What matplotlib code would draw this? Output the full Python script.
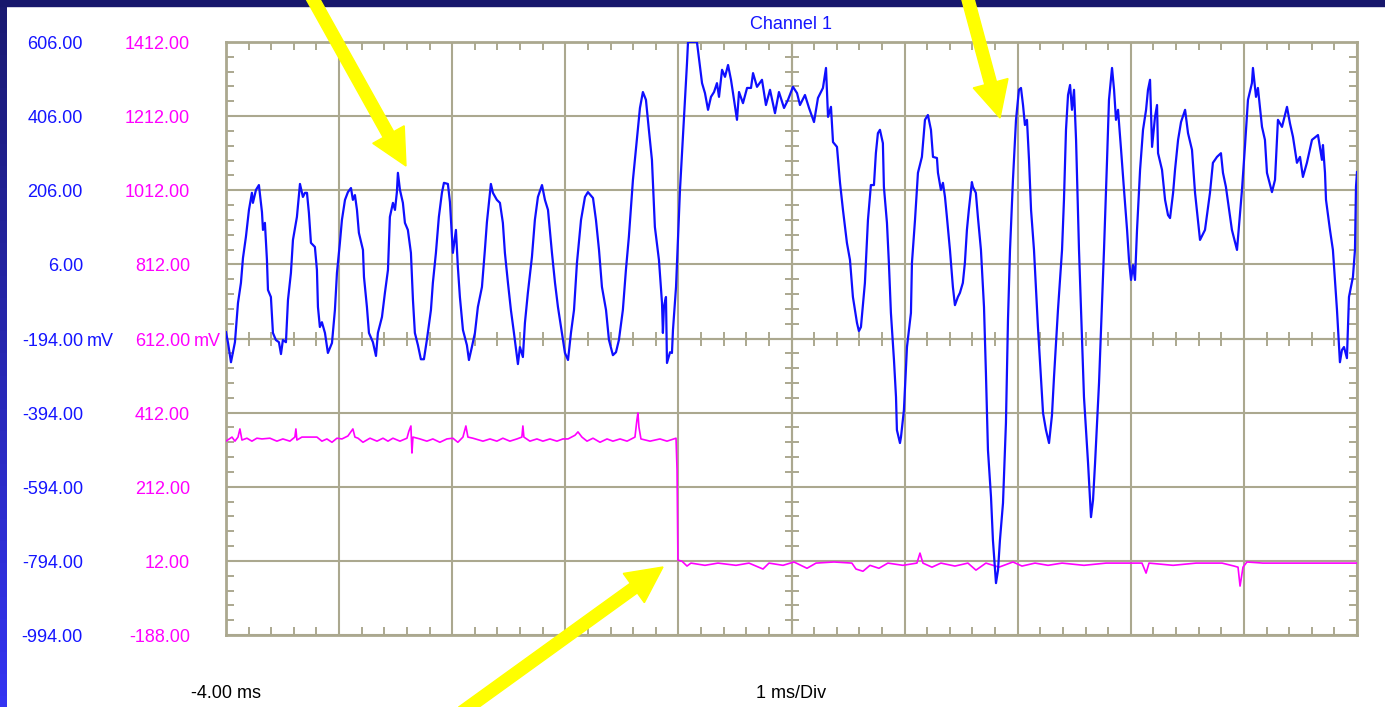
import matplotlib
matplotlib.use("Agg")
import matplotlib.pyplot as plt
from matplotlib import transforms
from matplotlib.colors import LinearSegmentedColormap
from matplotlib.patches import FancyArrow, Rectangle
from matplotlib.ticker import MultipleLocator
import numpy as np

BLUE_TICKS = [606, 406, 206, 6, -194, -394, -594, -794, -994]
MAG_TICKS = [1412, 1212, 1012, 812, 612, 412, 212, 12, -188]
T_START = -4.0
MS_PER_DIV = 1.0

BLUE_T = [
    -4.000, -3.982, -3.956, -3.939, -3.921, -3.894, -3.868, -3.850, -3.824, -3.797,
    -3.771, -3.762, -3.735, -3.709, -3.682, -3.673, -3.656, -3.638, -3.629, -3.603,
    -3.585, -3.559, -3.532, -3.514, -3.497, -3.470, -3.452, -3.426, -3.408, -3.373,
    -3.346, -3.320, -3.302, -3.284, -3.267, -3.249, -3.214, -3.196, -3.187, -3.170,
    -3.152, -3.125, -3.099, -3.063, -3.037, -3.019, -2.993, -2.975, -2.948, -2.922,
    -2.895, -2.878, -2.860, -2.842, -2.825, -2.789, -2.780, -2.754, -2.736, -2.701,
    -2.674, -2.657, -2.621, -2.595, -2.568, -2.551, -2.524, -2.506, -2.489, -2.480,
    -2.462, -2.436, -2.418, -2.392, -2.365, -2.347, -2.330, -2.303, -2.277, -2.250,
    -2.224, -2.188, -2.171, -2.144, -2.118, -2.091, -2.073, -2.038, -2.020, -1.994,
    -1.967, -1.950, -1.932, -1.905, -1.870, -1.852, -1.826, -1.799, -1.773, -1.737,
    -1.711, -1.693, -1.658, -1.640, -1.605, -1.578, -1.552, -1.534, -1.507, -1.481,
    -1.454, -1.419, -1.401, -1.375, -1.357, -1.331, -1.295, -1.269, -1.242, -1.206,
    -1.180, -1.153, -1.118, -1.091, -1.065, -1.030, -1.003, -0.976, -0.950, -0.923,
    -0.897, -0.861, -0.826, -0.800, -0.755, -0.729, -0.702, -0.676, -0.640, -0.614,
    -0.579, -0.552, -0.526, -0.491, -0.464, -0.438, -0.402, -0.367, -0.340, -0.314,
    -0.287, -0.261, -0.234, -0.208, -0.172, -0.145, -0.137, -0.128, -0.110, -0.101,
    -0.074, -0.057, -0.048, -0.021, -0.004, 0.014, 0.032, 0.058, 0.076, 0.085,
    0.164, 0.191, 0.209, 0.235, 0.262, 0.288, 0.315, 0.341, 0.359, 0.386,
    0.412, 0.439, 0.465, 0.483, 0.518, 0.536, 0.571, 0.607, 0.642, 0.660,
    0.695, 0.739, 0.774, 0.810, 0.854, 0.889, 0.934, 0.969, 1.013, 1.049,
    1.075, 1.119, 1.155, 1.199, 1.234, 1.278, 1.305, 1.323, 1.349, 1.367,
    1.402, 1.429, 1.455, 1.490, 1.517, 1.543, 1.579, 1.596, 1.614, 1.649,
    1.676, 1.702, 1.729, 1.746, 1.764, 1.782, 1.808, 1.817, 1.844, 1.861,
    1.879, 1.906, 1.924, 1.932, 1.959, 1.968, 1.994, 2.021, 2.056, 2.065,
    2.092, 2.118, 2.153, 2.180, 2.206, 2.233, 2.251, 2.286, 2.295, 2.321,
    2.339, 2.357, 2.374, 2.401, 2.427, 2.445, 2.471, 2.489, 2.515, 2.533,
    2.551, 2.568, 2.595, 2.604, 2.630, 2.648, 2.675, 2.702, 2.719, 2.737,
    2.764, 2.781, 2.808, 2.826, 2.843, 2.870, 2.896, 2.914, 2.932, 2.958,
    2.985, 3.011, 3.029, 3.047, 3.064, 3.082, 3.100, 3.118, 3.144, 3.179,
    3.224, 3.250, 3.277, 3.303, 3.321, 3.356, 3.392, 3.409, 3.427, 3.445,
    3.463, 3.480, 3.498, 3.516, 3.542, 3.586, 3.622, 3.648, 3.666, 3.684,
    3.719, 3.763, 3.790, 3.807, 3.834, 3.852, 3.869, 3.887, 3.914, 3.940,
    3.967, 3.984, 4.002, 4.020, 4.037, 4.055, 4.082, 4.108, 4.135, 4.152,
    4.170, 4.188, 4.214, 4.232, 4.241, 4.276, 4.303, 4.329, 4.347, 4.374,
    4.391, 4.418, 4.444, 4.480, 4.506, 4.541, 4.568, 4.612, 4.656, 4.700,
    4.726, 4.762, 4.797, 4.815, 4.841, 4.894, 4.939, 4.983, 5.009, 5.036,
    5.071, 5.080, 5.107, 5.124, 5.160, 5.186, 5.204, 5.248, 5.275, 5.301,
    5.337, 5.363, 5.381, 5.407, 5.434, 5.469, 5.496, 5.522, 5.557, 5.602,
    5.655, 5.672, 5.690, 5.699, 5.717, 5.726, 5.761, 5.787, 5.823, 5.849,
    5.867, 5.885, 5.911, 5.929, 5.964, 5.982, 5.991, 6.000,
]
BLUE_MV = [
    -177, -206, -258, -231, -204, -98, -44, 23, 80, 153,
    199, 172, 207, 220, 147, 99, 118, 18, -63, -82,
    -179, -198, -204, -236, -198, -204, -90, -17, 72, 134,
    223, 188, 199, 199, 145, 64, 53, -9, -109, -163,
    -150, -179, -233, -206, -117, -17, 64, 126, 180, 201,
    212, 180, 193, 153, 91, 45, -28, -109, -179, -204,
    -241, -179, -136, -71, -9, 134, 172, 153, 201, 253,
    207, 172, 118, 99, 37, -90, -179, -212, -250, -250,
    -198, -117, -44, 37, 134, 199, 226, 223, 174, 37,
    99, -1, -82, -171, -212, -252, -217, -179, -109, -55,
    45, 120, 223, 199, 180, 172, 118, 37, -44, -117,
    -179, -263, -217, -244, -152, -71, 26, 126, 188, 220,
    180, 153, 37, -44, -109, -179, -233, -252, -179, -117,
    10, 126, 188, 201, 185, 126, 45, -55, -117, -198,
    -239, -231, -198, -117, -9, 80, 234, 342, 428, 471,
    450, 369, 288, 107, 18, -98, -179, -109, -82, -260,
    -231, -233, -171, -55, 72, 207, 306, 450, 549, 606,
    606, 539, 495, 468, 423, 458, 471, 495, 458, 531,
    512, 544, 504, 468, 396, 471, 441, 482, 482, 522,
    485, 504, 436, 477, 414, 471, 428, 450, 485, 468,
    436, 463, 428, 390, 455, 482, 536, 404, 431, 336,
    323, 226, 153, 64, 18, -82, -152, -174, -163, -44,
    126, 220, 220, 306, 360, 369, 333, 215, 118, 10,
    -125, -252, -352, -441, -476, -460, -387, -217, -125, 10,
    126, 253, 296, 396, 409, 369, 296, 293, 253, 207,
    226, 188, 134, 45, -55, -104, -82, -71, -44, 10,
    99, 153, 228, 215, 199, 134, 45, -109, -287, -495,
    -622, -738, -854, -819, -738, -638, -422, -144, 45, 234,
    396, 477, 482, 436, 382, 396, 288, 153, 45, -163,
    -395, -441, -476, -401, -298, -117, 45, 180, 369, 463,
    490, 423, 477, 342, 45, -352, -530, -676, -630, -530,
    -314, 45, 288, 450, 536, 477, 396, 423, 315, 207,
    99, 18, -36, 4, -36, 99, 261, 369, 423, 477,
    504, 323, 404, 436, 306, 261, 180, 139, 131, 199,
    261, 342, 390, 423, 360, 315, 199, 72, 99, 199,
    280, 296, 306, 253, 215, 99, 45, 207, 323, 450,
    495, 536, 458, 482, 377, 342, 253, 201, 234, 396,
    377, 409, 431, 387, 350, 280, 296, 242, 280, 342,
    355, 323, 288, 328, 253, 180, 99, 45, -117, -258,
    -225, -217, -247, -82, -28, 45, 215, 255,
]

MAG_T = [
    -4.000, -3.947, -3.921, -3.894, -3.877, -3.859, -3.815, -3.771, -3.727, -3.682,
    -3.612, -3.550, -3.497, -3.435, -3.391, -3.382, -3.373, -3.329, -3.276, -3.196,
    -3.152, -3.108, -3.063, -3.019, -2.975, -2.922, -2.878, -2.860, -2.833, -2.789,
    -2.727, -2.665, -2.612, -2.568, -2.524, -2.462, -2.400, -2.383, -2.365, -2.356,
    -2.347, -2.285, -2.224, -2.171, -2.109, -2.047, -1.994, -1.950, -1.905, -1.879,
    -1.861, -1.817, -1.728, -1.666, -1.605, -1.552, -1.490, -1.428, -1.384, -1.375,
    -1.366, -1.313, -1.251, -1.198, -1.136, -1.074, -1.021, -0.976, -0.914, -0.888,
    -0.853, -0.808, -0.755, -0.693, -0.631, -0.579, -0.516, -0.454, -0.384, -0.367,
    -0.358, -0.349, -0.331, -0.251, -0.163, -0.101, -0.021, -0.012, -0.004, 0.032,
    0.076, 0.111, 0.235, 0.350, 0.509, 0.624, 0.748, 0.801, 0.925, 1.022,
    1.137, 1.217, 1.376, 1.534, 1.570, 1.632, 1.694, 1.773, 1.852, 1.985,
    2.109, 2.136, 2.162, 2.242, 2.321, 2.445, 2.560, 2.631, 2.719, 2.834,
    2.958, 3.038, 3.153, 3.268, 3.392, 3.586, 3.781, 3.940, 4.099, 4.135,
    4.161, 4.374, 4.577, 4.807, 4.913, 4.948, 4.966, 4.992, 5.027, 5.168,
    5.318, 5.477, 5.681, 5.840, 6.000,
]
MAG_MV = [
    335, 346, 335, 346, 368, 338, 343, 335, 343, 341,
    343, 335, 341, 335, 346, 368, 338, 346, 346, 346,
    335, 341, 332, 343, 341, 349, 368, 346, 343, 332,
    343, 335, 343, 335, 343, 335, 343, 362, 376, 303,
    346, 341, 335, 341, 332, 341, 343, 332, 346, 376,
    346, 343, 335, 341, 335, 343, 335, 341, 346, 376,
    346, 335, 341, 335, 341, 335, 341, 341, 351, 360,
    346, 335, 343, 332, 341, 335, 341, 335, 346, 392,
    411, 373, 341, 335, 341, 335, 343, 257, 14, 11,
    -2, 6, 0, 6, 0, 6, -10, 6, 0, 9,
    -8, 6, 9, 6, -10, -16, 0, -8, 6, 0,
    6, 33, 6, -5, 6, -2, 6, -13, 6, -5,
    9, -2, 6, 0, 6, 0, 6, 6, 6, -21,
    6, 0, 6, 6, -2, -5, -56, -5, 9, 6,
    6, 6, 6, 6, 6,
]

# ---- cores ----
GRID = "#aba88f"
AZUL = "#0f0fff"
AZUL_TXT = "#1414ff"
MAGENTA = "#ff00ff"
AMARELO = "#ffff00"

plt.rcParams["font.family"] = ["Liberation Sans", "DejaVu Sans"]
plt.rcParams["font.size"] = 13

W, H = 1385, 707
fig = plt.figure(figsize=(W / 100, H / 100), dpi=100, facecolor="white")

# moldura azul do slide
faixa = fig.add_axes([0, 0, 7 / W, 1])
grad = np.linspace(0, 1, 64).reshape(-1, 1)
faixa.imshow(grad, aspect="auto",
             cmap=LinearSegmentedColormap.from_list("borda", ["#1a1a70", "#3434f2"]))
faixa.axis("off")
fig.add_artist(Rectangle((0, 1 - 6 / H), 1, 6 / H, transform=fig.transFigure,
                         color="#17176c", zorder=5))

rect = [226 / W, 72 / H, 1131 / W, 593 / H]
xlim = (T_START, T_START + 10 * MS_PER_DIV)
ylim = (BLUE_TICKS[-1], BLUE_TICKS[0])

# eixos centrais com marcas dos dois lados
axc = fig.add_axes(rect, facecolor="white")
axc.set_xlim(*xlim)
axc.set_ylim(*ylim)
centro_t = (xlim[0] + xlim[1]) / 2
centro_v = (ylim[0] + ylim[1]) / 2
axc.spines["left"].set_position(("data", centro_t))
axc.spines["bottom"].set_position(("data", centro_v))
axc.spines["top"].set_visible(False)
axc.spines["right"].set_visible(False)
for s in ("left", "bottom"):
    axc.spines[s].set_color(GRID)
    axc.spines[s].set_linewidth(1.5)
axc.xaxis.set_major_locator(MultipleLocator(MS_PER_DIV))
axc.xaxis.set_minor_locator(MultipleLocator(MS_PER_DIV / 5))
axc.yaxis.set_major_locator(MultipleLocator(200, offset=BLUE_TICKS[0] % 200))
axc.yaxis.set_minor_locator(MultipleLocator(40, offset=BLUE_TICKS[0] % 40))
axc.tick_params(which="major", length=0, labelleft=False, labelbottom=False)
axc.tick_params(which="minor", direction="inout", length=10, width=1.4, color=GRID)

# eixo principal
ax = fig.add_axes(rect)
ax.patch.set_visible(False)
ax.set_xlim(*xlim)
ax.set_ylim(*ylim)
ax.xaxis.set_major_locator(MultipleLocator(MS_PER_DIV))
ax.xaxis.set_minor_locator(MultipleLocator(MS_PER_DIV / 5))
ax.yaxis.set_major_locator(MultipleLocator(200, offset=BLUE_TICKS[0] % 200))
ax.yaxis.set_minor_locator(MultipleLocator(40, offset=BLUE_TICKS[0] % 40))
ax.tick_params(which="major", length=0, labelleft=False, labelbottom=False)
ax.tick_params(which="minor", direction="in", length=5.5, width=1.4, color=GRID,
               top=True, right=True, left=True, bottom=True,
               labelleft=False, labelbottom=False)
ax.grid(True, which="major", color=GRID, linewidth=1.5)
for s in ax.spines.values():
    s.set_color(GRID)
    s.set_linewidth(2)

# canal magenta tem a sua propria escala (deslocada)
desloc = MAG_TICKS[0] - BLUE_TICKS[0]
trans_mag = transforms.Affine2D().translate(0, -desloc) + ax.transData
ax.plot(MAG_T, MAG_MV, color=MAGENTA, linewidth=1.2, transform=trans_mag, zorder=3)
ax.plot(BLUE_T, BLUE_MV, color=AZUL, linewidth=1.6, zorder=4)

# rotulos dos eixos (um pouco abaixo do centro, como na captura)
tr_azul = transforms.offset_copy(
    transforms.blended_transform_factory(fig.transFigure, ax.transData),
    fig=fig, y=-2.5, units="dots")
tr_mag = transforms.offset_copy(
    transforms.blended_transform_factory(fig.transFigure, trans_mag),
    fig=fig, y=-2.5, units="dots")
for i, (va, vm) in enumerate(zip(BLUE_TICKS, MAG_TICKS)):
    ax.text(83 / W, va, f"{va:.2f}", color=AZUL_TXT, ha="right", va="center",
            transform=tr_azul)
    ax.text(190 / W, vm, f"{vm:.2f}", color=MAGENTA, ha="right", va="center",
            transform=tr_mag)
    if i == len(BLUE_TICKS) // 2:
        ax.text(87 / W, va, "mV", color=AZUL_TXT, ha="left", va="center",
                transform=tr_azul)
        ax.text(194 / W, vm, "mV", color=MAGENTA, ha="left", va="center",
                transform=tr_mag)

ax.text(0.5, 1.030, "Channel 1", color=AZUL_TXT, ha="center", va="center",
        transform=ax.transAxes)
ax.text(0.0, -0.099, f"{T_START:.2f} ms", color="black", ha="center", va="center",
        transform=ax.transAxes)
ax.text(0.5, -0.099, f"{MS_PER_DIV:g} ms/Div", color="black", ha="center", va="center",
        transform=ax.transAxes)

# setas amarelas (coordenadas em pixels da imagem, y para baixo)
px = transforms.Affine2D().scale(1 / W, -1 / H).translate(0, 1) + fig.transFigure
setas = [((309, -8), (406, 166)), ((966, -8), (1000, 118)), ((462, 712), (663, 567))]
for (x0, y0), (x1, y1) in setas:
    fig.add_artist(FancyArrow(x0, y0, x1 - x0, y1 - y0, width=12, head_width=36,
                              head_length=36, length_includes_head=True,
                              color=AMARELO, transform=px, zorder=10))

fig.savefig("out.png", dpi=100, facecolor="white")
